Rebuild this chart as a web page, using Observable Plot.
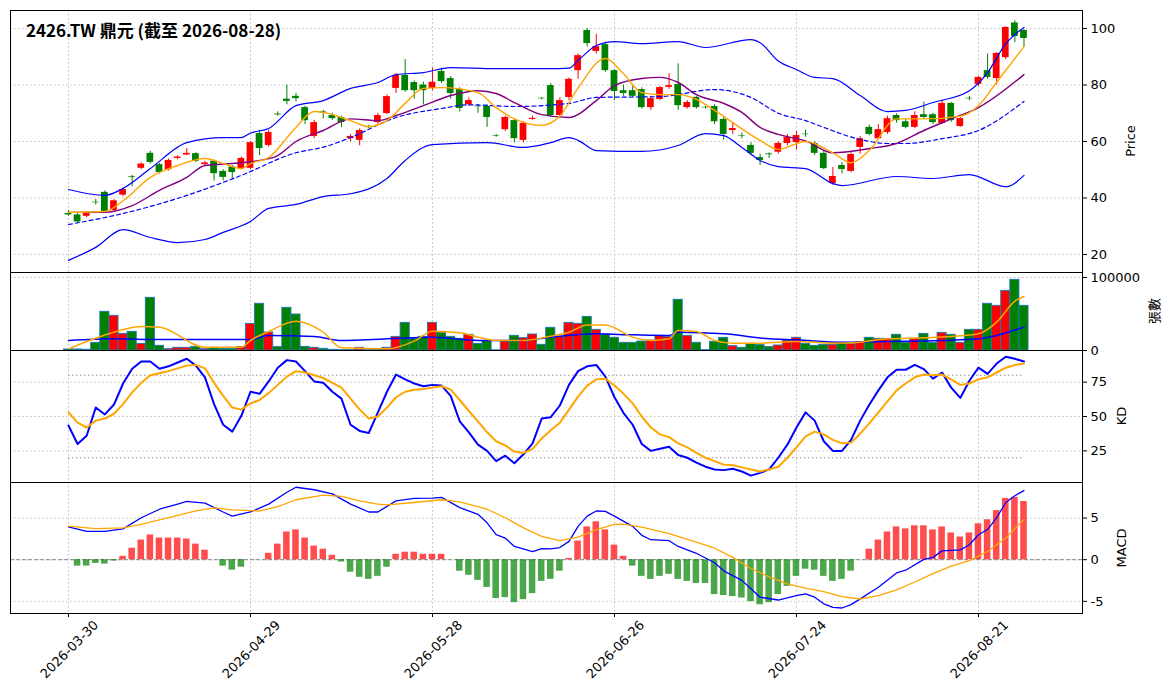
<!DOCTYPE html>
<html><head><meta charset="utf-8">
<script src="https://cdn.jsdelivr.net/npm/d3@7"></script>
<script src="https://cdn.jsdelivr.net/npm/@observablehq/plot@0.6"></script>
<style>
body{margin:0;background:#fff;font-family:"DejaVu Sans","Noto Sans CJK TC",sans-serif;}
#wrap{position:relative;width:1171px;height:698px;overflow:hidden;}
.panel{position:absolute;left:0;}
.lab{position:absolute;font-size:13px;transform:translate(-50%,-50%) rotate(-90deg);white-space:nowrap;}
#title{position:absolute;left:26px;top:17px;font-size:17px;font-weight:bold;font-family:"Noto Sans CJK TC","Noto Sans",sans-serif;}
</style></head><body>
<div id="wrap"></div>
<script>
const title = "2426.TW 鼎元 (截至 2026-08-28)";
const tickIdx = [0,20,40,60,80,100];
const tickLabels = ["2026-03-30","2026-04-29","2026-05-28","2026-06-26","2026-07-24","2026-08-21"];
const open = [34.5,34,33.5,38.5,42,35.5,41,47.5,50.5,55.8, 51.8,50,54,55.2,55.7,51.8,53,49.4,51,50.4, 50.5,62.8,58.6,69.7,75,76,72,61.8,70.5,69.2, 68.5,61,60.4,65.2,66.7,69.9,78.8,83.4,80.9,80, 78.8,84.8,82.3,78.4,73,72.5,72.4,62.1,64.2,67.4, 60.4,67.8,75.3,79.8,69.2,75.6,85.1,99.3,91.9,94.3, 85.1,78,78,78.4,72,74.9,79.2,80.2,72,75.6, 72.1,72.4,67.8,63.9,62.1,58.6,54.3,55.6,56.2,59.3, 59.6,62.6,59.3,55.8,45.1,51.5,49.4,57.9,65,61, 63.2,69.2,67,65,69.5,69.5,66.4,73.5,65.3,75.3, 80.2,85.1,82.3,89.7,102,99.3];
const close = [34,31.5,34.5,38.3,35,39,43,47.2,52,52.6, 49,53.3,54.5,55.8,53,52.4,48.6,47.3,49,54, 59.6,57.5,63.2,69.4,74.2,75.2,67.4,66.7,70.1,68.1, 66.7,61.8,63.9,64.9,69.2,75.9,83.4,78,78,78, 81,81.2,77,71.7,74.5,72.3,68.5,61.9,68.5,61, 66.4,68.2,75.1,69.2,74.5,82,90.4,94.7,93.6,85.1, 77.7,77,76,72,75.2,79.1,79.8,72.7,73.8,72, 71.9,67,62.5,64.6,61.9,55.8,53.3,55.3,59.3,61.4, 62.1,62.4,55.8,50.4,47.6,50.1,55.4,61,62.5,64.2, 68.1,67.4,65,69.2,68.5,66.7,73.5,67.4,68.1,75.1, 82.7,82.7,91.2,100.4,97.2,96.5];
const high = [35.5,34.5,35,39.5,42.5,39.5,43.5,48,52.5,56.5, 52.2,53.8,55,57.5,56,53,53.5,50,51.5,54.5, 60,64,64,70.5,80,77,72.5,67.5,71,70, 69,62.5,64.5,65.8,70,76.5,84,89,81.5,81, 86,86,83,79,75.5,73,73,62.5,69,68, 67,69,75.6,80.5,75.5,82.5,91,100,98,94.8, 85.5,80,79.5,79,76,79.5,84,87.5,74.5,76, 72.5,73,68.5,66.5,63,59.5,55.5,56,60,62.5, 63.5,64,60,56.5,50.8,52.5,56,61.8,65.8,66, 69,69.8,68,70.5,74,70,74.5,73.8,68.5,76, 83,91,91.5,100.6,102.8,99.7];
const low = [33.5,31,33,37.5,34.5,35,40.5,44,50,52, 48.5,49.5,53.5,55,52.5,51.5,46,46,46.5,50, 50,55,58,69,73,74,66,61,68,67.5, 65,60,58.5,64.5,66,69.5,77,77.5,75,73, 78,80.5,75,70.5,72.5,70,65,61.5,63.5,59.5, 59.5,67.5,74.8,68.5,68.8,74.5,82,93.5,91,84.5, 74.5,76,75.5,71.5,71,74.5,78.5,71,71.5,71.5, 71.5,66,60.5,62.5,61,55,51.5,54,55.5,58.5, 57,61.5,55,50,44.5,48.5,49,55.5,62,60.5, 62.5,66.5,64.5,64.5,68,66,66,66.8,65,74.5, 79.5,82,80,89,95,93.5];
const volume = [1400,1400,1000,10500,53000,47500,22800,25600,9100,72200, 6400,1800,3700,3700,5000,1800,3700,2300,2300,4600, 36500,64000,24700,4600,58500,49300,5000,3700,2300,900, 500,500,3700,900,900,3700,18700,37900,16000,18700, 37900,24200,18700,16000,21500,9100,12800,300,12300,20100, 16900,21900,7800,31100,18300,37900,36500,46100,28300,21500, 17400,10500,10500,12300,13700,20100,18300,69500,20100,10500, 500,11900,17400,5900,3700,9100,7300,4600,6900,13700, 17400,9100,6400,7800,7800,10500,9100,11400,17400,16000, 16000,21500,10500,16000,22800,10500,24200,21500,10500,28300, 28300,64000,61200,81700,96800,61200];
const kVals = [43.5,30,36,56.5,51.5,58.7,74,84.7,90,90, 84.7,86.5,89.3,92,87,78.5,59,44,39,50.5, 68,66.5,75.5,85.5,91,90,83,75.5,74.5,68, 63,44,39.5,38,53,68,80.5,77,74,72, 73,72.5,65,46.5,38.5,29.5,25,17.5,21.5,16, 22.5,30.5,48.5,49.5,58,73,83,86.5,87.5,79, 64,52.5,44,30,25,26.5,28,22,20,16.5, 13.5,11.5,11,12,10,7,9,11.5,20,29.5, 42,53,47,32,25,25,33,47,58.5,69, 78.5,84,84,87.5,84.5,77.5,82,71,63.5,76, 85.5,81,88.5,93.5,92,90];
const dVals = [53,45.5,42,47,48.5,52,59,67.5,74.5,80, 81.5,83,85,87,87.5,85,74.5,65,56.5,55, 59.5,62,67,73,79,83,82,80,78,74.5, 71,63,55,48.5,50,56.5,64,68,69.5,70, 71,72,69.5,62,54,46.5,38.5,32,29,24.5, 23.5,26.5,34,40,45.5,55,64.5,72.5,77,77.5, 72.5,66.5,59.5,50,42,37,35,30.5,27.5,23.5, 20,17.5,15,14.5,13,11.5,10,11.5,13.5,20, 27.5,35.5,39,37,33,30.5,31,37.5,45,53, 61,69,74,78.5,80.5,80,80.5,77,73,74, 77,78.5,82,85.5,87.5,88.5];
const macdHist = [0,-0.77,-0.77,-0.45,-0.53,-0.16,0.41,1.38,2.36,2.97, 2.6,2.6,2.6,2.48,1.87,1.14,0,-0.77,-1.26,-0.9, 0,0,0.77,1.87,3.33,3.58,2.6,1.63,1.26,0.53, -0.28,-1.5,-2.11,-2.36,-2.0,-0.9,0.65,0.9,0.9,0.65, 0.65,0.65,0,-1.38,-1.87,-2.48,-3.33,-4.67,-4.55,-5.16, -4.8,-4.07,-2.6,-2.36,-1.38,0.16,2.24,3.94,4.55,3.58, 1.75,0.41,-0.77,-2.0,-2.36,-2.0,-1.75,-2.36,-2.6,-2.85, -2.85,-4.19,-4.31,-4.43,-4.6,-5.04,-5.41,-5.16,-4.19,-3.21, -2.0,-1.14,-1.26,-2.0,-2.6,-2.36,-1.38,0,1.26,2.36, 3.33,3.94,3.7,4.07,4.07,3.58,3.94,3.21,2.72,3.21, 4.31,4.8,5.9,7.36,7.48,6.99];
// sampled line readings [index, value]
const ma5 = [[0,34.9],[4,35.2],[6,39],[9,47.3],[12,51.5],[15,54],[17,52.2],[19,50.4],[20,52.2],[22,54.3],[25,65],[27,70.6],[28,70.3],[31,67.4],[33,65.3],[35,67.4],[37,73.5],[39,78.8],[41,79.1],[45,77.3],[47,72],[49,68],[52,65.7],[54,69],[56,79],[59,89.4],[61,84],[63,77.3],[65,76.6],[67,76.6],[69,74.9],[71,71],[73,66.7],[76,60.4],[78,57.2],[81,60],[84,56],[86,52.5],[88,56.8],[91,68],[94,68],[98,69],[100,72.7],[102,81],[105,93.6]];
const ma10 = [[0,34.9],[4,34.9],[7,37.3],[10,42.7],[13,47.3],[15,51.5],[18,52.2],[21,53.3],[23,55],[25,60],[28,63.9],[31,68],[34,67.4],[36,69.2],[39,72.7],[42,76.3],[45,78],[47,77],[49,73.8],[52,69.5],[55,68.5],[58,74.5],[60,79.8],[63,82.3],[65,82.7],[67,80.9],[69,76.6],[72,73.5],[74,70.3],[76,65],[78,62.5],[81,60.2],[84,56],[88,57.5],[91,59.3],[94,63.9],[97,68],[100,72],[105,83.7]];
const ma20 = [[0,30.6],[6,34.5],[13,40.9],[19,48],[25,56],[28,58],[31,61.4],[36,68.5],[41,71.7],[44,73],[49,72.4],[55,73.5],[58,75.6],[65,75.9],[71,78.4],[75,75.6],[78,70],[81,67.4],[83,65],[87,60.7],[90,59.3],[92,59.3],[96,61],[100,63.9],[105,74.2]];
const bbUpper = [[0,43],[4,40.9],[6,43.4],[9,50.4],[13,59.6],[17,61.4],[19,61.4],[20,63],[22,64.6],[25,72.7],[28,74.5],[31,78.8],[34,80.9],[36,83.7],[39,84.4],[42,86.2],[47,85.8],[53,85.8],[55,86],[56,88.7],[58,94],[60,95.4],[63,94.7],[67,95.4],[70,93.3],[75,96.1],[76,95],[78,88.5],[80,85.5],[82,82.7],[84,82.3],[87,76.3],[90,70.6],[92,71],[95,73.8],[99,78],[101,84.4],[103,94.7],[105,100.4]];
const bbLower = [[0,17.9],[3,22.5],[6,28.8],[9,26],[12,24.2],[15,25.3],[17,27.8],[20,31.7],[22,36.3],[25,37.7],[28,40.5],[31,41.5],[35,46.9],[37,53.3],[40,58.9],[46,59.6],[50,57.9],[53,59.6],[55,61.4],[56,60.4],[58,56.8],[63,56.5],[67,58.6],[70,62.8],[72,62.1],[74,57.9],[76,53.3],[78,51.1],[81,50.4],[84,45.1],[85,44.4],[91,47.6],[95,46.9],[99,48.3],[103,44],[105,48]];
const volMa5 = [[0,2300],[5,25000],[8,33000],[10,32000],[15,4600],[19,4600],[20,13700],[22,26000],[25,40000],[28,25000],[30,3700],[35,2300],[38,12800],[40,26500],[43,24200],[45,18300],[47,13700],[50,13700],[53,19600],[55,25000],[57,35000],[59,35000],[62,18300],[64,13700],[66,16000],[67,27400],[69,26000],[71,13700],[73,10000],[76,10000],[80,12300],[84,10000],[87,11400],[90,16000],[94,17400],[97,19200],[100,22800],[102,38800],[104,67600],[105,74000]];
const volMa20 = [[0,13700],[5,16000],[10,15100],[20,15100],[22,20600],[27,19200],[30,13700],[40,18300],[45,13700],[50,13700],[53,18300],[58,22800],[62,21500],[66,20600],[67,25000],[72,22800],[77,16000],[80,14600],[85,11400],[90,12300],[96,13700],[100,16000],[102,20600],[105,32000]];
const dif = [[0,3.94],[2,3.41],[4,3.41],[6,3.7],[8,5.04],[10,6.06],[12,6.67],[13,7.0],[15,6.8],[17,5.73],[18,5.24],[20,5.73],[22,6.67],[24,8.1],[25,8.7],[27,8.4],[29,7.9],[31,6.67],[33,5.73],[34,5.73],[36,7.07],[38,7.36],[40,7.4],[41,7.48],[43,6.26],[45,5.45],[46,4.43],[47,3.0],[48,2.6],[49,1.59],[51,0.98],[52,1.34],[53,1.3],[54,1.46],[55,2.2],[56,4.0],[57,5.24],[58,5.85],[59,5.8],[60,5.24],[62,4.0],[63,2.93],[64,2.4],[66,2.28],[67,1.59],[69,0.77],[71,-0.37],[72,-1.34],[74,-2.48],[75,-3.5],[76,-4.5],[78,-4.84],[80,-4.31],[81,-4.1],[82,-4.5],[83,-5.3],[84,-5.73],[85,-5.8],[86,-5.4],[87,-4.7],[89,-3.3],[91,-1.59],[92,-1.26],[94,0.04],[95,0.28],[96,1.06],[98,1.18],[99,1.79],[100,3.0],[101,3.62],[102,5.04],[103,6.87],[104,7.68],[105,8.3]];
const signal = [[0,4.02],[3,3.74],[6,3.82],[8,4.23],[11,5.04],[14,5.85],[16,6.22],[18,5.98],[21,5.85],[23,6.38],[25,7.2],[28,7.76],[30,7.6],[32,7.07],[34,6.67],[35,6.59],[38,6.87],[41,7.2],[43,6.95],[46,6.06],[48,5.04],[50,3.82],[52,2.8],[54,2.28],[56,2.72],[58,3.62],[60,4.23],[61,4.27],[63,3.9],[66,3.13],[69,2.11],[71,1.38],[73,0.28],[75,-1.06],[77,-2.07],[79,-2.89],[81,-3.41],[83,-3.82],[85,-4.43],[87,-4.72],[89,-4.31],[91,-3.62],[93,-2.68],[95,-1.67],[97,-0.77],[99,-0.12],[101,0.98],[103,2.6],[105,4.84]];

const bars = open.map((o,i)=>({i, o, c:close[i], h:high[i], l:low[i], v:volume[i], k:kVals[i], d:dVals[i], m:macdHist[i], up: close[i] >= o}));
const pts = a => a.map(([i,v])=>({i,v}));

const W = 1171, ML = 10, MR = 89;
const xDom = [-6.37, 111.43];
const font = "DejaVu Sans, Noto Sans CJK TC, sans-serif";
const gridStyle = {stroke:"#b0b0b0", strokeOpacity:1, strokeDasharray:"1.5,2.5", strokeWidth:0.8};
const wrap = document.getElementById("wrap");

function panel(top, height, yDom, yTicks, marks, opts={}) {
  const mb = opts.marginBottom || 0;
  const p = Plot.plot({
    width: W, height: height + mb, marginLeft: ML, marginRight: MR, marginTop: 0, marginBottom: mb,
    style: {fontFamily: font, fontSize: "13px", background: "transparent", overflow:"visible"},
    x: {domain: xDom, axis: null},
    y: {domain: yDom, axis: null},
    marks: [
      Plot.gridX(tickIdx, gridStyle),
      Plot.gridY(yTicks, gridStyle),
      ...marks,
      Plot.axisY(yTicks, {anchor:"right", label:null, tickSize:4, tickPadding:4, fontSize:13, tickFormat: opts.fmt || (d=>d)}),
      ...(opts.xaxis ? [
        Plot.axisX(tickIdx, {anchor:"bottom", label:null, tickSize:4, tickFormat: () => ""}),
        Plot.text(tickIdx, {x: d=>d, frameAnchor:"bottom", dy: 39, dx: 4, rotate:-45, textAnchor:"middle", fontSize:13, text: d => tickLabels[tickIdx.indexOf(d)]})
      ] : []),
      Plot.frame({stroke:"black", strokeWidth:1})
    ]
  });
  p.classList.add("panel");
  p.style.top = top + "px";
  wrap.appendChild(p);
}

// Price panel
panel(10, 262, [13.6, 106.4], [20,40,60,80,100], [
  Plot.ruleX(bars, {x:"i", y1:"l", y2:"h", stroke: d => d.up ? "red" : "green", strokeWidth:1}),
  Plot.rect(bars, {x1: d=>d.i-0.37, x2: d=>d.i+0.37, y1:"o", y2:"c", fill: d => d.up ? "red" : "green"}),
  Plot.line(pts(bbUpper), {x:"i", y:"v", stroke:"blue", strokeWidth:1.2, curve:"monotone-x"}),
  Plot.line(pts(bbLower), {x:"i", y:"v", stroke:"blue", strokeWidth:1.2, curve:"monotone-x"}),
  Plot.line(pts(ma20), {x:"i", y:"v", stroke:"blue", strokeWidth:1.2, strokeDasharray:"4,3", curve:"monotone-x"}),
  Plot.line(pts(ma10), {x:"i", y:"v", stroke:"purple", strokeWidth:1.4, curve:"monotone-x"}),
  Plot.line(pts(ma5), {x:"i", y:"v", stroke:"orange", strokeWidth:1.4, curve:"monotone-x"})
]);

// Volume panel
panel(272, 78, [0, 106850], [0, 100000], [
  Plot.rect(bars, {x1: d=>d.i-0.5, x2: d=>d.i+0.5, y1: 0, y2:"v", fill: d => d.up ? "red" : "green", stroke:"#1f77b4", strokeWidth:0.9}),
  Plot.line(pts(volMa20), {x:"i", y:"v", stroke:"blue", strokeWidth:1.5, curve:"monotone-x"}),
  Plot.line(pts(volMa5), {x:"i", y:"v", stroke:"orange", strokeWidth:1.5, curve:"monotone-x"})
], {fmt: d3.format("d")});

// KD panel
panel(350, 132, [2, 98], [25,50,75], [
  Plot.ruleY([80,20], {x1: 0, x2: bars.length-1, stroke:"#888", strokeDasharray:"1.5,2.5", strokeWidth:0.9}),
  Plot.line(bars, {x:"i", y:"k", stroke:"blue", strokeWidth:2}),
  Plot.line(bars, {x:"i", y:"d", stroke:"orange", strokeWidth:2})
]);

// MACD panel
panel(482, 131, [-6.46, 9.27], [-5,0,5], [
  Plot.ruleY([0], {stroke:"#888", strokeDasharray:"4,2", strokeWidth:1}),
  Plot.rect(bars, {x1: d=>d.i-0.36, x2: d=>d.i+0.36, y1: 0, y2:"m", fill: d => d.m >= 0 ? "red" : "green", fillOpacity:0.7}),
  Plot.line(pts(dif), {x:"i", y:"v", stroke:"blue", strokeWidth:1.3}),
  Plot.line(pts(signal), {x:"i", y:"v", stroke:"orange", strokeWidth:1.3})
], {xaxis:true, marginBottom: 85});

// titles / axis labels
const t = document.createElement("div"); t.id = "title"; t.textContent = title; wrap.appendChild(t);
[["Price",1130,141],["張數",1153,311],["KD",1121,416],["MACD",1121,548]].forEach(([s,x,y])=>{
  const d = document.createElement("div"); d.className="lab"; d.textContent=s;
  d.style.left = x+"px"; d.style.top = y+"px"; wrap.appendChild(d);
});
</script>
</body></html>
